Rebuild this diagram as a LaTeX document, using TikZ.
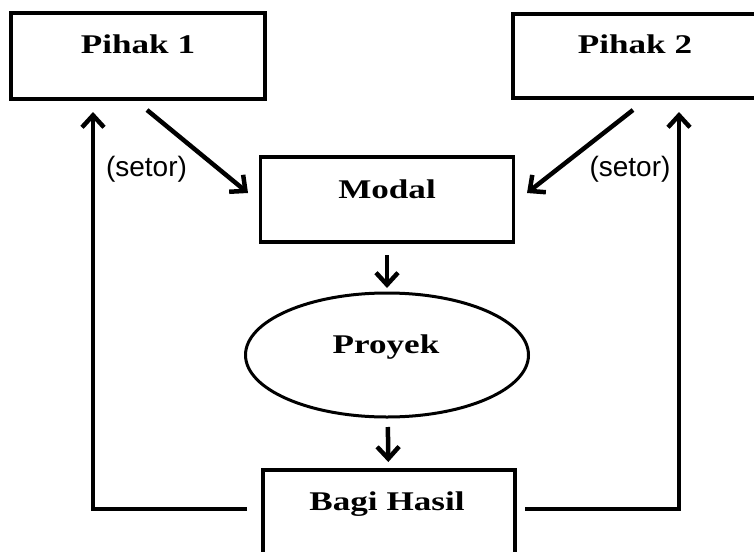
\documentclass[tikz,border=0pt]{standalone}
\usepackage{fontspec}
\usepackage{graphicx}
\setmainfont{Liberation Serif}
\newfontfamily\sansf{Liberation Sans}
\usetikzlibrary{arrows.meta,shapes.geometric}
\newcommand{\boxlbl}[1]{\scalebox{1.3}[1]{\fontsize{27}{32}\selectfont\bfseries #1}}
\tikzset{
  boxnode/.style={draw=black, line width=3.6pt, rectangle, inner sep=0pt, outer sep=0pt},
  ovalnode/.style={draw=black, line width=3pt, ellipse, inner sep=0pt, outer sep=0pt},
  lbl/.style={inner sep=0pt, anchor=base, text=black},
  setorlbl/.style={inner sep=0pt, anchor=base, text=black, font=\sansf\fontsize{28}{32}\selectfont},
  arr/.style={draw=black, line width=4.5pt, -{Straight Barb[length=12pt,width=22pt]}},
  plainline/.style={draw=black, line width=4.5pt}
}
\begin{document}
\begin{tikzpicture}[x=1pt,y=-1pt]
\path[use as bounding box, clip] (0,0) rectangle (754,551);
\fill[white] (0,0) rectangle (754,551);
% boxes
\node[boxnode, minimum width=254pt, minimum height=86pt] (p1) at (138,56) {};
\node[boxnode, minimum width=257pt, minimum height=84pt] (p2) at (641.5,56) {};
\node[boxnode, minimum width=253pt, minimum height=85pt] (modal) at (387,199.5) {};
\node[ovalnode, minimum width=283pt, minimum height=124pt] (proyek) at (387,355) {};
\node[boxnode, minimum width=252pt, minimum height=100pt] (bagi) at (389,520) {};
% labels
\node[lbl] (p1t) at (138,53) {\boxlbl{Pihak 1}};
\node[lbl] (p2t) at (635,53) {\boxlbl{Pihak 2}};
\node[lbl] (modalt) at (387,198) {\boxlbl{Modal}};
\node[lbl] (proyekt) at (386,353) {\boxlbl{Proyek}};
\node[lbl] (bagit) at (387,510) {\boxlbl{Bagi Hasil}};
\node[setorlbl] (set1) at (146.5,176) {(setor)};
\node[setorlbl] (set2) at (630,176) {(setor)};
% connector end points
\coordinate (s1) at (147,110);
\coordinate (e1) at (248,193);
\coordinate (s2) at (633,110);
\coordinate (e2) at (527,193);
\coordinate (bl) at (247,509);
\coordinate (ul) at (93,112);
\coordinate (br) at (525,509);
\coordinate (ur) at (679,112);
% connectors
\draw[arr] (s1) -- (e1);
\draw[arr] (s2) -- (e2);
\draw[arr, shorten <=13pt, shorten >=5pt] (modal) -- (proyek);
\draw[arr, shorten <=10pt, shorten >=8pt] (proyek) -- (bagi);
\draw[arr] (bl) -| (ul);
\draw[arr] (br) -| (ur);
\end{tikzpicture}
\end{document}
